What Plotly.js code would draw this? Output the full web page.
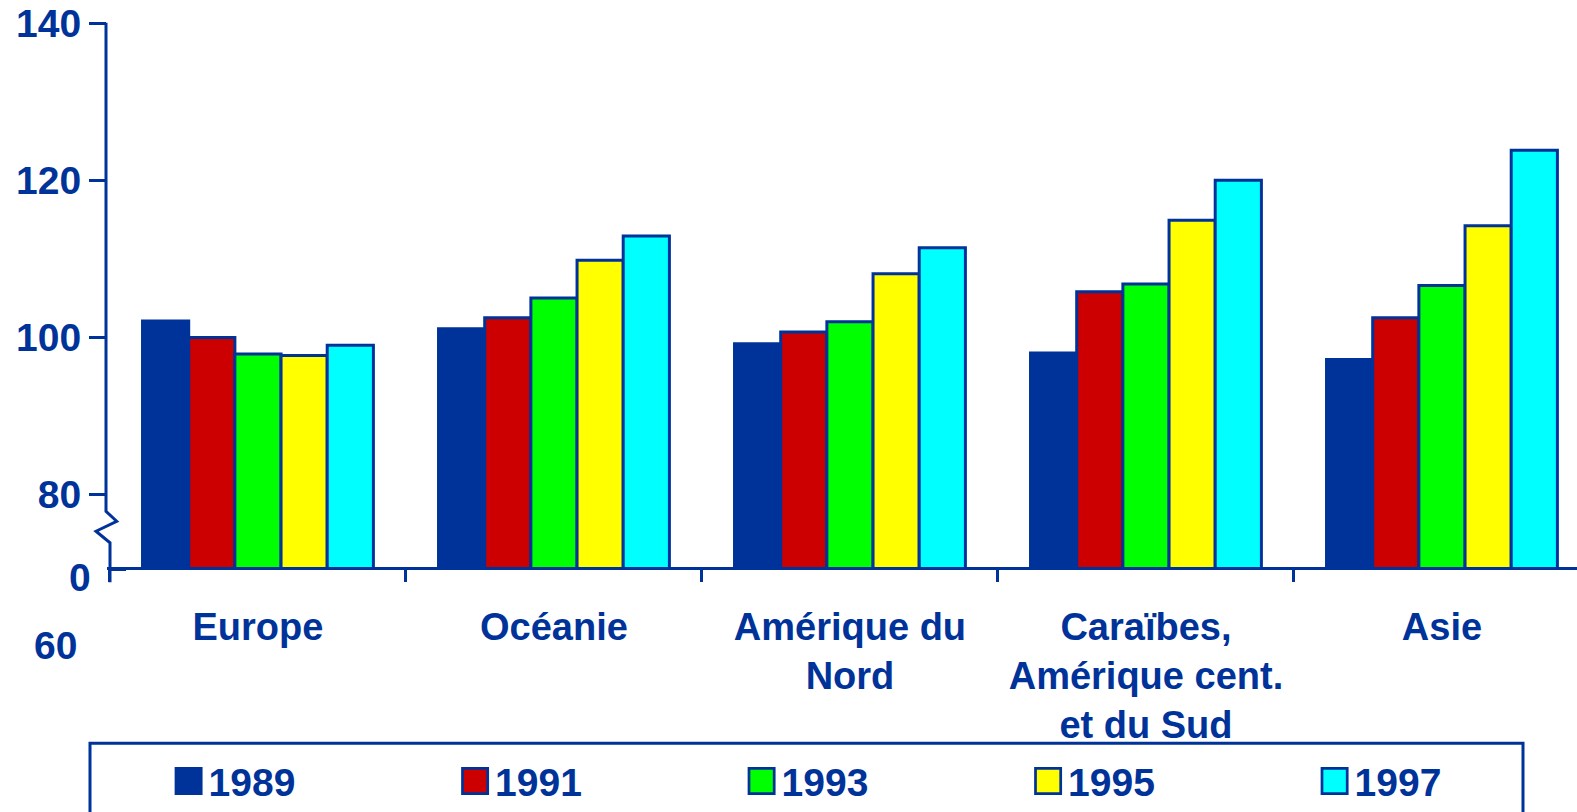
<!DOCTYPE html>
<html>
<head>
<meta charset="utf-8">
<script src="https://cdn.plot.ly/plotly-3.0.1.min.js"></script>
<style>
html,body{margin:0;padding:0;background:#fff;overflow:hidden;}
#chart{width:1577px;height:812px;}
</style>
</head>
<body>
<div id="chart"></div>
<script>
// ---- data ----
const categories = ["Europe", "Océanie", "Amérique du<br>Nord", "Caraïbes,<br>Amérique cent.<br>et du Sud", "Asie"];
const years = ["1989", "1991", "1993", "1995", "1997"];
const v1989 = [102.1, 101.1, 99.2, 98.0, 97.2];
const v1991 = [100.0, 102.5, 100.7, 105.8, 102.5];
const v1993 = [97.9, 105.0, 102.0, 106.8, 106.6];
const v1995 = [97.7, 109.8, 108.1, 114.9, 114.2];
const v1997 = [99.0, 112.9, 111.4, 120.0, 123.8];
const seriesValues = [v1989, v1991, v1993, v1995, v1997];
const colors = ["#003399", "#CC0000", "#00FF00", "#FFFF00", "#00FFFF"];
const yTicks = [80, 100, 120, 140];

// ---- layout geometry ----
const FW = 1577, FH = 812;
const L = 107, T = 23, B = 812 - 567.5, R = 0;
const PW = FW - L - R, PH = FH - T - B;
const px = x => (x - L) / PW;
const py = y => (T + PH - y) / PH;
const blue = "#003399";
const fam = "'Liberation Sans', Arial, sans-serif";

const traces = seriesValues.map((vals, i) => ({
  type: "bar",
  name: years[i],
  x: categories,
  y: vals,
  marker: {color: colors[i], line: {color: blue, width: 3}},
  hoverinfo: "skip"
}));

const xr = [-0.51, -0.51 + PW / 296];

const layout = {
  width: FW, height: FH,
  margin: {l: L, r: R, t: T, b: B, pad: 0, autoexpand: false},
  paper_bgcolor: "#fff", plot_bgcolor: "#fff",
  barmode: "group", bargap: 0.22, bargroupgap: 0,
  font: {family: fam, color: blue, size: 38, weight: 700},
  showlegend: true,
  legend: {
    orientation: "h", xref: "container", yref: "container",
    x: 0, xanchor: "left", y: 0.1, yanchor: "top",
    entrywidth: 241.5, entrywidthmode: "pixels",
    font: {family: fam, size: 39, color: blue, weight: 700},
    bgcolor: "rgba(0,0,0,0)", borderwidth: 0,
    traceorder: "normal"
  },
  xaxis: {
    type: "category", range: xr, fixedrange: true, automargin: false,
    showline: true, linecolor: blue, linewidth: 3,
    ticks: "outside", tickson: "boundaries", ticklen: 12, tickwidth: 3, tickcolor: blue,
    showgrid: false, zeroline: false, ticklabelstandoff: 24,
    tickfont: {family: fam, size: 38, color: blue, weight: 700}
  },
  yaxis: {
    range: [140 - PH / 7.867, 140], fixedrange: true, automargin: false,
    tickvals: yTicks, ticktext: yTicks.map(String),
    ticks: "outside", ticklen: 17, tickwidth: 3, tickcolor: blue,
    showline: false, showgrid: false, zeroline: false,
    tickfont: {family: fam, size: 39, color: blue, weight: 700}
  },
  shapes: [
    {type: "path", xref: "paper", yref: "paper", layer: "above",
     path: `M${px(106)},${py(22.7)} L${px(106)},${py(511.7)} L${px(116.7)},${py(521.7)} L${px(96)},${py(531.7)} L${px(110)},${py(543.3)} L${px(110)},${py(582.7)}`,
     line: {color: blue, width: 3}},
    {type: "line", xref: "paper", yref: "paper", layer: "above",
     x0: px(110), x1: px(126), y0: py(570), y1: py(570),
     line: {color: blue, width: 3}},
    {type: "rect", xref: "paper", yref: "paper", layer: "above",
     x0: px(90), x1: px(1523), y0: py(744), y1: py(840),
     line: {color: blue, width: 3}, fillcolor: "rgba(0,0,0,0)"}
  ],
  annotations: [
    {xref: "paper", yref: "paper", x: px(93), y: py(578), xanchor: "right", yanchor: "middle",
     text: "0", showarrow: false, font: {family: fam, size: 39, color: blue, weight: 700}},
    {xref: "paper", yref: "paper", x: px(79), y: py(646), xanchor: "right", yanchor: "middle",
     text: "60", showarrow: false, font: {family: fam, size: 39, color: blue, weight: 700}}
  ]
};

Plotly.newPlot("chart", traces, layout, {displayModeBar: false, staticPlot: true}).then(gd => {
  const pts = gd.querySelectorAll(".legendpoints path");
  pts.forEach(p => {
    const t = p.getAttribute("transform") || "";
    p.setAttribute("transform", t + " scale(2.1)");
    p.style.strokeWidth = "1.3px";
  });
  // place legend entries: first swatch left edge at x=176, swatch centre at y=782
  const leg = gd.querySelector("g.legend");
  if (leg && pts.length) {
    const host = gd.getBoundingClientRect();
    const r = pts[0].getBoundingClientRect();
    const dx = 176 - (r.left - host.left);
    const dy = 781 - ((r.top + r.bottom) / 2 - host.top);
    const m = /translate\(\s*([-\d.eE]+)[ ,]+([-\d.eE]+)\s*\)/.exec(leg.getAttribute("transform") || "");
    const ox = m ? parseFloat(m[1]) : 0, oy = m ? parseFloat(m[2]) : 0;
    leg.setAttribute("transform", `translate(${ox + dx},${oy + dy})`);
  }
});
</script>
</body>
</html>
